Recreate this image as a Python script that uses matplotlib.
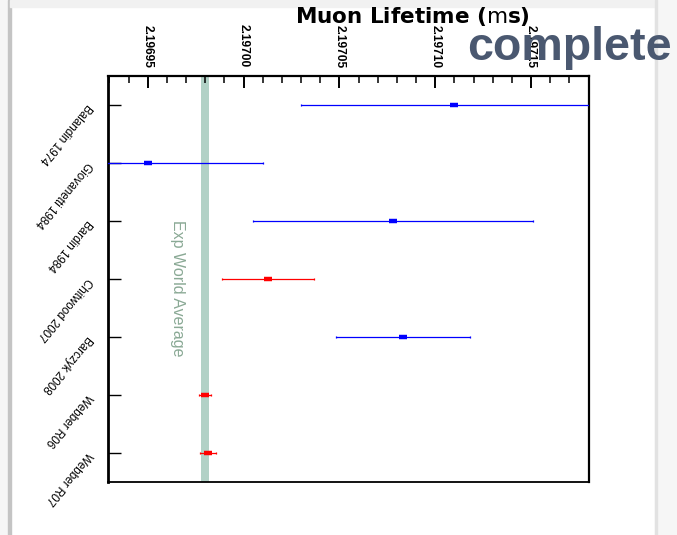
import matplotlib
matplotlib.use("Agg")
import matplotlib.pyplot as plt
from matplotlib.patches import Rectangle
from matplotlib.ticker import MultipleLocator, FixedLocator

# Measurements of the muon lifetime (microseconds)
experiments = ["Balandin 1974", "Giovanetti 1984", "Bardin 1984", "Chitwood 2007",
               "Barczyk 2008", "Webber R06", "Webber R07"]
lifetimes = [2.19711, 2.19695, 2.197078, 2.197013, 2.197083, 2.1969800, 2.1969813]
errors = [0.00008, 0.00006, 0.000073, 0.000024, 0.000035, 0.0000032, 0.0000041]
point_colors = ["#0000ff", "#0000ff", "#0000ff", "#ff0000", "#0000ff", "#ff0000", "#ff0000"]

world_average = 2.1969800
world_average_err = 0.0000021

x_ticks = [2.19695, 2.19700, 2.19705, 2.19710, 2.19715]
x_tick_labels = ["2.19695", "2.19700", "2.19705", "2.19710", "2.19715"]

W, H = 677, 535
fig = plt.figure(figsize=(W / 100, H / 100), dpi=100)
fig.patch.set_facecolor("white")

sans = ["Liberation Sans", "DejaVu Sans"]

# page frame
fig.patches.append(Rectangle((0, 0), 8 / W, 1, transform=fig.transFigure,
                             color="#f6f6f6", zorder=0))
fig.patches.append(Rectangle((8 / W, 0), 2.5 / W, 1, transform=fig.transFigure,
                             color="#c4c4c4", zorder=0))
fig.patches.append(Rectangle((10 / W, 1 - 7 / H), 645 / W, 7 / H, transform=fig.transFigure,
                             color="#f1f1f1", zorder=0))
fig.patches.append(Rectangle((655 / W, 0), 22 / W, 1, transform=fig.transFigure,
                             color="#f6f6f6", zorder=0))
fig.patches.append(Rectangle((655 / W, 0), 1.5 / W, 1, transform=fig.transFigure,
                             color="#e2e2e2", zorder=0))

left, right, top, bottom = 107.5, 588.5, 76, 481.5
ax = fig.add_axes([left / W, 1 - bottom / H, (right - left) / W, (bottom - top) / H])
ax.set_facecolor("white")

# world average band
ax.axvspan(world_average - world_average_err, world_average + world_average_err,
           color="#b2d1c6", zorder=1, lw=0)

for i, (val, err, col) in enumerate(zip(lifetimes, errors, point_colors)):
    ax.errorbar(val, i, xerr=err, fmt="none", ecolor=col, elinewidth=0.9,
                capsize=1.0, capthick=0.9, zorder=3)
    ax.plot(val, i, marker="_", ms=5.8, mew=3.2, color=col, zorder=4)

ax.set_xlim(2.196929, 2.197180)
ax.set_ylim(6.5, -0.5)

# x axis on top
ax.xaxis.tick_top()
ax.xaxis.set_major_locator(FixedLocator(x_ticks))
ax.xaxis.set_minor_locator(MultipleLocator(0.00001))
ax.set_xticklabels(x_tick_labels, rotation=-90, fontsize=8.6, fontweight="bold",
                   family=sans)
ax.tick_params(axis="x", which="major", direction="in", length=8.6, width=1.4,
               pad=6, top=True, bottom=False)
ax.tick_params(axis="x", which="minor", direction="in", length=5, width=1.1,
               top=True, bottom=False)

# categories on the left
ax.set_yticks(range(len(experiments)))
ax.set_yticklabels(experiments, fontsize=8.4, family=sans)
ax.tick_params(axis="y", direction="in", length=9.5, width=1.0, pad=13,
               left=True, right=False)
for lbl in ax.get_yticklabels():
    lbl.set_rotation(-130)
    lbl.set_ha("left")
    lbl.set_va("center")
    lbl.set_rotation_mode("anchor")

ax.spines["left"].set_linewidth(2.0)
ax.spines["top"].set_linewidth(1.6)
ax.spines["right"].set_linewidth(1.6)
ax.spines["bottom"].set_linewidth(1.3)

fig.text(178 / W, 1 - 288 / H, "Exp World Average", rotation=-90, fontsize=11.5,
         family=sans, fontweight="medium", color="#8aa995", ha="center", va="center")

fig.text(412 / W, 1 - 22.7 / H, r"Muon Lifetime ($\mathrm{m}$s)", fontsize=15.5,
         fontweight="bold", ha="center", va="baseline", color="black")

fig.text(467 / W, 1 - 60 / H, "complete", fontsize=33.5, fontweight="bold",
         family=sans, color="#4a5870", ha="left", va="baseline")

fig.savefig("out.png", dpi=100)
